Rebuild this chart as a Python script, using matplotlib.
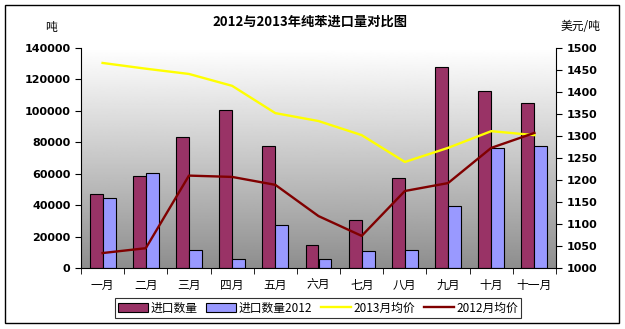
import numpy as np
import matplotlib.pyplot as plt
from matplotlib.patches import Rectangle

plt.rcParams['font.family'] = ['Noto Sans CJK SC', 'DejaVu Sans']

# data
months = ['一月', '二月', '三月', '四月', '五月', '六月', '七月', '八月', '九月', '十月', '十一月']
qty_2013 = [47000, 58500, 83500, 100500, 77500, 14700, 30500, 57500, 128000, 112500, 105000]
qty_2012 = [44500, 60500, 11500, 5800, 27500, 5800, 10800, 11500, 39500, 76500, 77800]
price_2013 = [1466, 1453, 1441, 1414, 1352, 1334, 1302, 1241, 1273, 1311, 1302]
price_2012 = [1034, 1045, 1210, 1207, 1189, 1118, 1073, 1175, 1193, 1273, 1307]

fig = plt.figure(figsize=(6.25, 3.29), dpi=100)
# outer frame
fig.patches.append(Rectangle((5/625, 6/329), 614/625, 318/329, transform=fig.transFigure,
                             fill=False, edgecolor='black', linewidth=1))

ax = fig.add_axes([81/625, (329-268)/329, 475/625, 220/329])
x = np.arange(len(months))

# gradient background, white at top to gray at bottom
grad = np.linspace(0.5, 1.0, 256) ** 0.85
ax.imshow(grad.reshape(-1, 1), aspect='auto', cmap='gray', vmin=0, vmax=1, origin='lower',
          extent=[-0.5, len(months) - 0.5, 0, 140000], zorder=0)

w = 0.3
ax.bar(x - w/2, qty_2013, w, color='#993366', edgecolor='black', linewidth=0.8, label='进口数量', zorder=2)
ax.bar(x + w/2, qty_2012, w, color='#9999FF', edgecolor='black', linewidth=0.8, label='进口数量2012', zorder=2)
ax.set_xlim(-0.5, len(months) - 0.5)
ax.set_ylim(0, 140000)
ax.set_yticks(range(0, 140001, 20000))
ax.set_yticklabels([str(v) for v in range(0, 140001, 20000)], fontsize=8, fontweight='bold', family='DejaVu Sans')
ax.set_xticks(x)
ax.set_xticklabels(months, fontsize=8.5)
ax.set_xticks(np.arange(-0.5, len(months)), minor=True)
ax.tick_params(axis='x', which='major', length=0, pad=8)
ax.tick_params(axis='x', which='minor', length=4, direction='out')
ax.tick_params(axis='y', length=4)
for s in ['top', 'right']:
    ax.spines[s].set_visible(False)

ax2 = ax.twinx()
l1, = ax2.plot(x, price_2013, color='#FFFF00', linewidth=1.7, label='2013月均价')
l2, = ax2.plot(x, price_2012, color='#800000', linewidth=1.7, label='2012月均价')
ax2.set_ylim(1000, 1500)
ax2.set_yticks(range(1000, 1501, 50))
ax2.set_yticklabels([str(v) for v in range(1000, 1501, 50)], fontsize=8, fontweight='bold', family='DejaVu Sans')
ax2.tick_params(axis='y', length=4)
for s in ['top', 'left', 'bottom']:
    ax2.spines[s].set_visible(False)

fig.text(310/625, 1 - 22/329, '2012与2013年纯苯进口量对比图', ha='center', va='center',
         fontsize=9.5, fontweight='bold')
fig.text(51/625, 1 - 27/329, '吨', ha='center', va='center', fontsize=8.5)
fig.text(580/625, 1 - 27/329, '美元/吨', ha='center', va='center', fontsize=8.5)

h1, lb1 = ax.get_legend_handles_labels()
leg = fig.legend(h1 + [l1, l2], lb1 + ['2013月均价', '2012月均价'], loc='center',
                 bbox_to_anchor=(318/625, 1 - 308/329), ncol=4, fontsize=8.5,
                 frameon=True, fancybox=False, edgecolor='black', handlelength=2.5,
                 handletextpad=0.2, columnspacing=0.8, borderpad=0.3)
leg.get_frame().set_linewidth(0.8)

fig.savefig('out.png', dpi=100)
